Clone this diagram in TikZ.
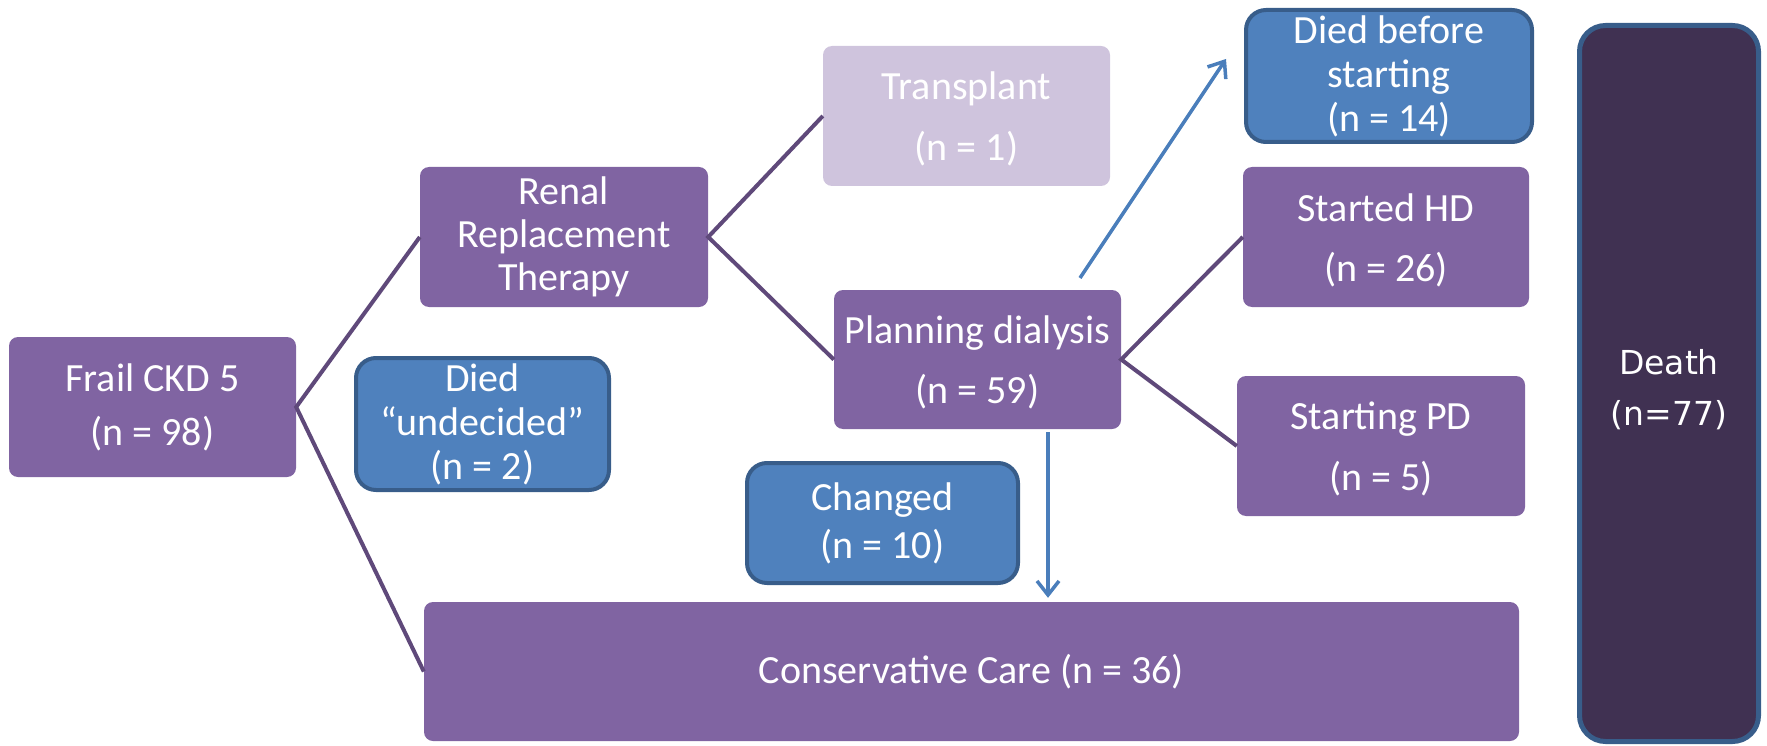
\documentclass[tikz,border=0pt]{standalone}
\usepackage{fontspec}
\setmainfont{Carlito}
\newfontfamily\deathfont{DejaVu Sans}
\usetikzlibrary{arrows.meta,calc}
\definecolor{pur}{HTML}{8064A2}
\definecolor{lpur}{HTML}{CFC4DD}
\definecolor{bfill}{HTML}{4F81BD}
\definecolor{bline}{HTML}{385D8A}
\definecolor{dfill}{HTML}{403152}
\definecolor{conn}{HTML}{5F497A}
\definecolor{barrow}{HTML}{4A7EBB}
\newcommand{\fs}[1]{\fontsize{40}{#1}\selectfont}
\begin{document}
\begin{tikzpicture}[x=1pt,y=-1pt,
  box/.style={rectangle, rounded corners=9pt, fill=pur, text=white, align=center, inner sep=0pt},
  lbox/.style={box, fill=lpur},
  bbox/.style={box, fill=bfill, draw=bline, line width=4pt, rounded corners=20pt},
  dbox/.style={box, fill=dfill, draw=bline, line width=5pt, rounded corners=26pt},
  link/.style={draw=conn, line width=4pt},
  barr/.style={draw=barrow, line width=3.5pt, -{Straight Barb[length=14pt,width=22pt,line width=3.5pt]}}]
\useasboundingbox (0,0) rectangle (1767,746);
\node[box, minimum width=287pt, minimum height=140pt, font=\fs{54}] (frail) at (152.5,407) {Frail CKD 5\\(n = 98)};
\node[box, minimum width=288pt, minimum height=140pt, font=\fs{43}] (rrt) at (564,237) {Renal\\Replacement\\Therapy};
\node[bbox, minimum width=253pt, minimum height=132pt, font=\fs{44}] (undec) at (482.5,424) {Died\\“undecided”\\(n = 2)};
\node[lbox, minimum width=287pt, minimum height=140pt, font=\fs{61}] (trans) at (966.5,116) {\rule{0pt}{34pt}Transplant\\(n = 1)};
\node[box, minimum width=287pt, minimum height=139pt, font=\fs{60}] (plan) at (977.5,359.5) {\rule{0pt}{34pt}Planning dialysis\\(n = 59)};
\node[bbox, minimum width=286pt, minimum height=132pt, font=\fs{44}] (before) at (1389,76) {Died before\\starting\\(n = 14)};
\node[box, minimum width=286pt, minimum height=140pt, font=\fs{60}] (hd) at (1386,237) {\rule{0pt}{34pt}Started HD\\(n = 26)};
\node[box, minimum width=288pt, minimum height=140pt, font=\fs{61}] (pd) at (1381,446) {\rule{0pt}{34pt}Starting PD\\(n = 5)};
\node[bbox, minimum width=271pt, minimum height=120pt, font=\fs{48}] (changed) at (882.5,523) {Changed\\(n = 10)};
\node[box, minimum width=1095pt, minimum height=139pt, font=\fs{48}] (cons) at (971.5,671.5) {Conservative Care (n = 36)};
\node[dbox, minimum width=179pt, minimum height=716pt, font={\deathfont\fontsize{33}{51}\selectfont}] (death) at (1669,383.5) {\rule{0pt}{37pt}Death\\(n=77)};
% connectors
\draw[link] (rrt.west) -- (frail.east) -- (cons.west);
\draw[link] (trans.west) -- (rrt.east) -- (plan.west);
\draw[link] (hd.west) -- (plan.east) -- (pd.west);
\coordinate (a1s) at (1080,278);
\coordinate (a1e) at (1226,59);
\draw[barr] (a1s) -- (a1e);
\coordinate (a2s) at (1048,432);
\draw[barr] (a2s) -- ($(a2s |- cons.north)+(0,-4)$);
\end{tikzpicture}
\end{document}
